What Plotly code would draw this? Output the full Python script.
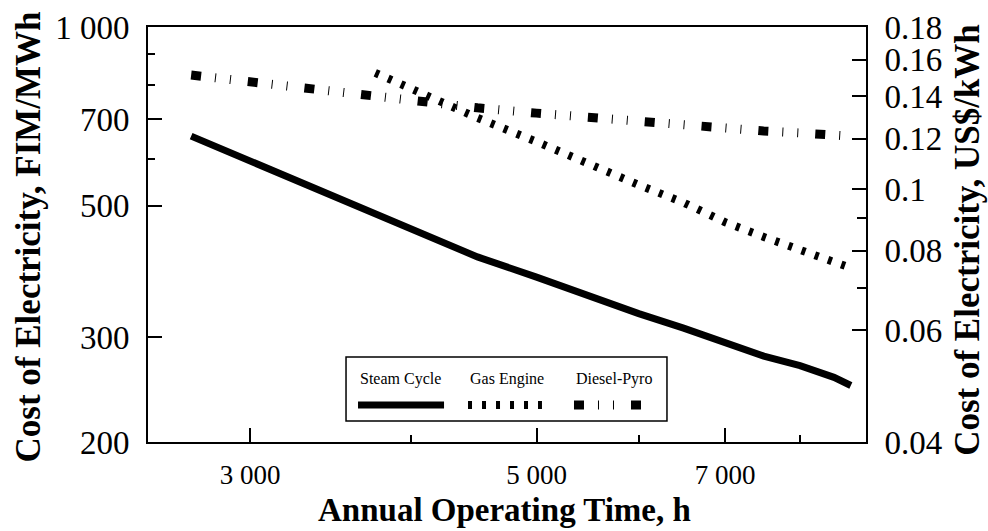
import plotly.graph_objects as go
import math

# ---- data ----
hours = [2700, 3000, 3500, 4000, 4500, 5000, 5500, 6000, 6500, 7000, 7500, 8000, 8500, 8760]
steam_cycle = [655, 595, 517, 459, 410, 379, 351, 329, 311, 295, 279, 269, 257, 249]
diesel_pyro = [830, 808, 774, 747, 731, 716, 703, 692, 683, 673, 668, 663, 658, 655]
gas_hours = [3750, 4000, 4500, 5000, 5500, 6000, 6500, 7000, 7500, 8000, 8500, 8760]
gas_engine = [837, 786, 703, 641, 585, 542, 506, 469, 443, 423, 402, 393]

x_ticks = [3000, 5000, 7000]
x_ticktext = ["3 000", "5 000", "7 000"]
x_minor = [4000, 6000, 8000]
y_ticks = [200, 300, 500, 700, 1000]
y_ticktext = ["200", "300", "500", "700", "1 000"]
y_minor = [600, 800, 900]
y2_ticks = [0.04, 0.06, 0.08, 0.1, 0.12, 0.14, 0.16, 0.18]
y2_ticktext = ["0.04", "0.06", "0.08", "0.1", "0.12", "0.14", "0.16", "0.18"]
y2_minor = [0.07, 0.09]

FONT = "Liberation Serif, Times New Roman, serif"
steam_style = dict(color="black", width=7)
gas_style = dict(color="black", width=8, dash="4px,10px")
diesel_style = dict(color="black", width=9, dash="10px,14px,1px,14px,1px,17px")

fig = go.Figure()
fig.add_trace(go.Scatter(x=hours, y=steam_cycle, mode="lines", name="Steam Cycle",
                         line=steam_style, showlegend=False))
fig.add_trace(go.Scatter(x=gas_hours, y=gas_engine, mode="lines", name="Gas Engine",
                         line=gas_style, showlegend=False))
fig.add_trace(go.Scatter(x=hours, y=diesel_pyro, mode="lines", name="Diesel-Pyro",
                         line=diesel_style, showlegend=False))
# empty trace so the secondary (US$/kWh) axis is drawn
fig.add_trace(go.Scatter(x=[], y=[], yaxis="y2", mode="lines", showlegend=False,
                         hoverinfo="skip"))

axis_common = dict(showline=True, linecolor="black", linewidth=2, showgrid=False,
                   zeroline=False, ticks="inside", tickcolor="black", tickwidth=1.5,
                   ticklen=14)

fig.update_layout(
    width=988, height=531,
    margin=dict(l=148, r=122, t=27, b=89, autoexpand=False),
    paper_bgcolor="white", plot_bgcolor="white",
    font=dict(family=FONT, color="black"),
    xaxis=dict(type="log", range=[math.log10(2500), math.log10(9000)],
               tickmode="array", tickvals=x_ticks, ticktext=x_ticktext,
               tickfont=dict(size=27), mirror=True, ticklabelstandoff=8,
               minor=dict(tickmode="array", tickvals=x_minor, ticks="inside",
                          ticklen=7, tickcolor="black", tickwidth=1.5),
               **axis_common),
    yaxis=dict(type="log", range=[math.log10(200), math.log10(1000)],
               tickmode="array", tickvals=y_ticks, ticktext=y_ticktext,
               tickfont=dict(size=33), ticklabelstandoff=10,
               minor=dict(tickmode="array", tickvals=y_minor, ticks="inside",
                          ticklen=7, tickcolor="black", tickwidth=1.5),
               **axis_common),
    yaxis2=dict(type="log", range=[math.log10(0.04), math.log10(0.18)],
                overlaying="y", side="right",
                tickmode="array", tickvals=y2_ticks, ticktext=y2_ticktext,
                tickfont=dict(size=33), ticklabelstandoff=10,
                minor=dict(tickmode="array", tickvals=y2_minor, ticks="inside",
                           ticklen=9, tickcolor="black", tickwidth=1.5),
                **axis_common),
)

# axis titles
fig.add_annotation(text="<b>Cost of Electricity, FIM/MWh</b>", xref="paper", yref="paper",
                   x=-0.1671, y=0.493, textangle=-90, showarrow=False,
                   font=dict(family=FONT, size=35, color="black"),
                   xanchor="center", yanchor="middle")
fig.add_annotation(text="<b>Cost of Electricity, US$/kWh</b>", xref="paper", yref="paper",
                   x=1.142, y=0.487, textangle=-90, showarrow=False,
                   font=dict(family=FONT, size=35, color="black"),
                   xanchor="center", yanchor="middle")
fig.add_annotation(text="<b>Annual Operating Time, h</b>", xref="paper", yref="paper",
                   x=0.497, y=-0.164, showarrow=False,
                   font=dict(family=FONT, size=33, color="black"),
                   xanchor="center", yanchor="middle")

# manual legend (text above line sample, as in the reference)
fig.add_shape(type="rect", xref="paper", yref="paper", x0=0.2758, x1=0.7228, y0=0.0506, y1=0.2048,
              line=dict(color="black", width=1.5), fillcolor="white", layer="above")
legend_items = [
    ("Steam Cycle", 0.2925, 0.4123, steam_style),
    ("Gas Engine", 0.4457, 0.5487, gas_style),
    ("Diesel-Pyro", 0.5933, 0.7061, diesel_style),
]
for name, x0, x1, style in legend_items:
    fig.add_annotation(text=name, xref="paper", yref="paper", x=x0, y=0.1518,
                       xanchor="left", yanchor="middle", showarrow=False,
                       font=dict(family=FONT, size=16, color="black"))
    fig.add_shape(type="line", xref="paper", yref="paper", x0=x0, x1=x1, y0=0.0892, y1=0.0892,
                  line=style, layer="above")

fig.write_html("out.html")
